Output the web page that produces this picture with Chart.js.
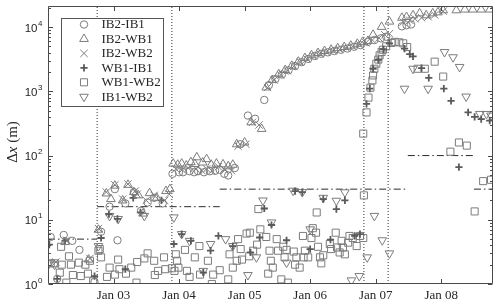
<!DOCTYPE html>
<html><head><meta charset="utf-8">
<script src="https://cdn.jsdelivr.net/npm/chart.js@4.4.0/dist/chart.umd.min.js"></script>
<style>html,body{margin:0;padding:0;background:#fff;}canvas{display:block;}</style>
</head><body>
<canvas id="c" width="500" height="304"></canvas>
<script>
// ---------- data (x: day of January 2010-style decimal days, y: Δx in metres) ----------
const seriesNames = ['IB2-IB1','IB2-WB1','IB2-WB2','WB1-IB1','WB1-WB2','IB1-WB2'];

const ib2ib1Days = [2.04,2.14,2.24,2.37,2.48,2.71, 2.81,2.94,3.02,3.06,3.18,3.31,3.42,3.52,3.62,3.75,3.90, 4.00,4.06,4.16,4.23,4.29,4.38,4.47,4.55,4.62,4.69,4.75,4.85, 4.93,5.05,5.16,5.30, 5.37,5.47,5.57,5.67,5.77,5.87,5.97,6.07,6.17,6.27,6.37,6.47,6.57,6.67,6.77, 6.88,6.98,7.08,7.16, 7.40,7.47,7.54];
const ib2ib1Dx   = [5.4,1.2,5.8,4.7,3.4,1.08, 6.5,16,30,4.8,18,27,13.8,18.6,22,18,52, 55,55,57,55,57,55,57,58,60,52,49,64, 150,420,375,735, 1250,1560,1830,2130,2480,2850,3200,3550,3850,4050,4250,4450,4650,4950,5250, 5900,6300,6700,7100, 10300,10700,11000];

const ib2wb1Days = [2.26,2.62,2.77, 2.89,2.96,3.02,3.14,3.22,3.31,3.38,3.45,3.55,3.66,3.80,3.86, 3.91,3.98,4.04,4.11,4.18,4.24,4.27,4.36,4.42,4.49,4.57,4.67,4.75,4.82, 4.88,5.00,5.10,5.26, 5.33,5.42,5.52,5.62,5.72,5.82,5.92,6.02,6.12,6.22,6.32,6.42,6.52,6.62,6.72,6.80, 6.88,6.96,7.09,7.21, 7.40,7.47,7.57,7.67,7.77,7.87,7.95,8.03,8.23,8.36,8.48,8.61,8.74];
const ib2wb1Dx   = [4.5,2.4,7.0, 25.7,21,34,20,35,27,24,12.5,26,22,28,30, 75,72,75,70,79,74,94,78,88,72,75,73,68,72, 150,160,330,260, 1150,1500,1850,2150,2500,2900,3300,3650,3950,4250,4450,4700,4900,5150,5500,5900, 6100,7600,10100,12200, 14000,14400,15300,16400,15300,16400,17000,18300,18300,18800,18800,18800,18800];

const ib2wb2Days = [2.12,2.28,2.64,2.77, 2.89,3.02,3.14,3.22,3.33,3.36,3.50,3.62,3.78,3.85, 3.95,4.05,4.14,4.26,4.35,4.42,4.50,4.60,4.70,4.80, 4.90,5.02,5.12,5.22, 5.35,5.45,5.55,5.65,5.75,5.85,5.95,6.05,6.15,6.25,6.35,6.45,6.55,6.65,6.75, 6.85,6.95,7.05,7.14,7.21, 7.42,7.52,7.60,7.70,7.80,7.90,8.03];
const ib2wb2Dx   = [2.2,4.8,2.5,7.3, 27,35,21,36,28,25,20,24,20,25, 62,60,64,62,58,62,58,67,60,58, 140,150,330,300, 1150,1500,1800,2100,2450,2850,3200,3550,3850,4100,4300,4500,4750,5000,5350, 5700,6300,6800,7600,7900, 12000,12800,13500,14000,14500,15500,17800];

const wb1ib1Days = [2.02,2.14,2.26,2.71, 2.81,2.93,3.06,3.18,3.30,3.41,3.73,3.92, 4.04,4.18,4.37,4.48,4.60,4.82,5.09,5.23,5.30,5.41,5.64,5.77,5.88,6.00,6.20,6.31,6.40,6.53,6.68,6.76, 6.86,6.91,6.96,7.04,7.12,7.21, 7.44,7.52,7.57,7.70,7.81,8.04,8.15,8.27,8.41,8.51,8.61,8.74];
const wb1ib1Dx   = [4.1,1.2,4.7,1.33, 5.2,12.2,10.3,1.7,22,13,20,4.2, 6.0,4.7,1.5,3.3,5.6,3.9,3.1,5.3,15,8.3,4.8,28,27,3.5,21,4.9,14.7,20,5.6,6.0, 640,1100,2250,3100,4500,5600, 4640,3800,3500,2300,1620,1100,710,66,470,400,370,350];

const wb1wb2Days = [2.04,2.10,2.18,2.20,2.21,2.28,2.32,2.35,2.38,2.47,2.50,2.57,2.61,2.64,2.69,2.77,
  2.79,2.81,2.90,2.94,3.02,3.07,3.09,3.19,3.27,3.35,3.36,3.47,3.52,3.62,3.63,3.68,3.77,3.79,3.89,3.93,
  3.95,3.97,3.99,4.09,4.12,4.16,4.24,4.31,4.32,4.44,4.50,4.52,4.62,4.75,4.77,4.82,4.88,4.90,4.94,4.96,
  5.03,5.07,5.08,5.13,5.19,5.21,5.24,5.33,5.36,5.38,5.40,5.43,5.49,5.51,5.56,5.59,5.61,5.64,5.66,5.75,5.77,5.79,5.84,5.89,5.90,5.92,5.97,6.02,6.04,6.09,6.10,6.12,6.15,6.17,6.20,6.30,6.32,6.39,6.41,6.45,6.48,6.50,6.53,6.58,6.60,6.65,6.71,6.76,6.81,6.82,
  6.81,6.86,6.89,6.92,6.95,6.96,6.98,7.01,7.04,7.06,7.09,7.11,7.16,7.24,
  7.29,7.36,7.42,7.48,7.64,7.75,7.90,8.03,8.14,8.27,8.39,8.51,8.64,8.76];
const wb1wb2Dx   = [2.1,2.1,1.5,3.8,2.0,1.05,2.7,2.0,1.38,2.15,1.33,2.0,1.45,2.3,1.1,3.3,
  3.5,2.6,1.29,1.8,1.4,2.4,1.7,1.45,1.8,1.05,2.2,2.5,3.0,2.3,1.38,1.6,2.6,1.7,1.76,1.6,
  2.9,2.3,1.8,3.4,1.6,1.29,2.6,3.9,1.4,2.3,1.0,1.4,1.64,1.18,2.9,1.8,2.3,5.0,3.5,2.4,
  6.1,2.7,6.3,3.3,4.1,14.7,7.1,5.4,1.45,3.3,2.3,1.8,5.0,3.3,1.18,3.8,2.6,3.4,1.05,3.2,2.0,2.6,1.8,5.6,2.6,3.3,2.6,5.2,7.4,6.3,13,3.8,2.6,2.1,2.8,4.2,3.5,6.3,3.7,3.1,4.7,3.7,2.9,4.4,5.6,5.2,3.9,5.6,5.2,24,
  220,470,800,1140,1480,1770,2250,2700,3130,3640,4100,4450,5030,5680,
  5900,5800,5600,4900,2250,2250,2900,1700,115,160,143,13.5,40,42];

const ib1wb2Days = [2.02,2.10,2.77, 2.94,3.07,3.47,3.92, 4.04,4.16,4.37,4.48,4.71,4.82,5.05,5.18,5.28,5.41,5.64,5.74,5.88,6.00,6.20,6.40,6.53,6.63,6.75,6.87,6.98,7.10,7.21, 7.44,7.57,7.80,8.05,8.18,8.28,8.38,8.59,8.69,8.76];
const ib1wb2Dx   = [2.1,2.0,3.9, 11.5,10.3,11.5,10.9, 6.0,4.7,1.6,4.2,5.0,3.9,1.38,2.6,20,9.1,2.15,28.4,27,7.1,22,19.8,26.8,1.14,1.33,2.6,11.5,4.8,3.0, 1100,2250,1100,4100,3400,2400,830,445,445,420];

// threshold (dash-dot) segments
const refStartDays = [2.00, 2.75, 4.62, 7.49, 8.50];
const refEndDays   = [2.75, 4.62, 7.49, 8.50, 8.79];
const refLevels    = [5, 16, 30, 100, 30];
// event times (dotted vertical lines)
const eventDays = [2.75, 3.89, 6.82, 7.19];

// axes
const xTickDays   = [3,4,5,6,7,8];
const xTickLabels = ['Jan 03','Jan 04','Jan 05','Jan 06','Jan 07','Jan 08'];
const yDecadeExps = [0,1,2,3,4];

// ---------- styling ----------
const GRAY = '#7c7c7c', DARK = '#5a5a5a', AXIS = '#4a4a4a', TXT = '#262626';
const markers = [
  {style:'circle',   rotation:0,   radius:3.7, width:1,   color:GRAY},
  {style:'triangle', rotation:0,   radius:5.0, width:1,   color:GRAY},
  {style:'crossRot', rotation:0,   radius:5.2, width:1,   color:GRAY},
  {style:'cross',    rotation:0,   radius:3.6, width:1.8, color:DARK},
  {style:'rect',     rotation:0,   radius:5.0, width:1,   color:GRAY},
  {style:'triangle', rotation:180, radius:5.0, width:1,   color:GRAY},
];
const seriesX = [ib2ib1Days, ib2wb1Days, ib2wb2Days, wb1ib1Days, wb1wb2Days, ib1wb2Days];
const seriesY = [ib2ib1Dx, ib2wb1Dx, ib2wb2Dx, wb1ib1Dx, wb1wb2Dx, ib1wb2Dx];

const datasets = [];
seriesNames.forEach((name, i) => {
  const m = markers[i];
  datasets.push({
    label: name,
    data: seriesX[i].map((d, k) => ({x: d, y: seriesY[i][k]})),
    pointStyle: m.style, pointRotation: m.rotation, pointRadius: m.radius,
    pointBorderWidth: m.width, pointBorderColor: m.color, borderColor: m.color,
    pointBackgroundColor: 'rgba(0,0,0,0)', backgroundColor: 'rgba(0,0,0,0)',
    showLine: false
  });
});
const Y_MIN = 1, Y_MAX = 21200, X_MIN = 2, X_MAX = 8.79;
refLevels.forEach((v, i) => {
  datasets.push({
    label: 'ref' + i,
    data: [{x: refStartDays[i], y: v}, {x: refEndDays[i], y: v}],
    showLine: true, borderColor: '#2a2a2a', borderWidth: 1,
    borderDash: [7, 3, 1.5, 3], pointRadius: 0, fill: false
  });
});
eventDays.forEach((d, i) => {
  datasets.push({
    label: 'event' + i,
    data: [{x: d, y: Y_MIN}, {x: d, y: Y_MAX}],
    showLine: true, borderColor: '#333', borderWidth: 1,
    borderDash: [1, 2], pointRadius: 0, fill: false
  });
});

function drawMarker(ctx, m, x, y) {
  ctx.save();
  ctx.strokeStyle = m.color; ctx.fillStyle = 'rgba(0,0,0,0)'; ctx.lineWidth = m.width;
  if (Chart.helpers && Chart.helpers.drawPoint) {
    Chart.helpers.drawPoint(ctx, {pointStyle: m.style, rotation: m.rotation, radius: m.radius, borderWidth: m.width}, x, y);
  } else {
    ctx.beginPath(); ctx.arc(x, y, m.radius, 0, Math.PI * 2); ctx.stroke();
  }
  ctx.restore();
}

const decor = {
  id: 'decor',
  afterDraw(chart) {
    const {ctx, chartArea: a, scales} = chart;
    const xs = scales.x, ys = scales.y;
    ctx.save();
    const L = Math.round(a.left) + 0.5, R = Math.round(a.right) - 0.5;
    const T = Math.round(a.top) + 0.5, B = Math.round(a.bottom) - 0.5;
    ctx.strokeStyle = AXIS; ctx.lineWidth = 1;
    ctx.beginPath(); ctx.rect(L, T, R - L, B - T); ctx.stroke();
    ctx.beginPath();
    xTickDays.forEach(d => {
      const px = Math.round(xs.getPixelForValue(d)) + 0.5;
      ctx.moveTo(px, B); ctx.lineTo(px, B - 4.5);
      ctx.moveTo(px, T); ctx.lineTo(px, T + 4.5);
    });
    yDecadeExps.forEach(k => {
      const py = Math.round(ys.getPixelForValue(Math.pow(10, k))) + 0.5;
      ctx.moveTo(L, py); ctx.lineTo(L + 4.5, py);
      ctx.moveTo(R, py); ctx.lineTo(R - 4.5, py);
      for (let mm = 2; mm <= 9; mm++) {
        const v = mm * Math.pow(10, k);
        if (v > Y_MAX) break;
        const q = Math.round(ys.getPixelForValue(v)) + 0.5;
        ctx.moveTo(L, q); ctx.lineTo(L + 2.5, q);
        ctx.moveTo(R, q); ctx.lineTo(R - 2.5, q);
      }
    });
    ctx.stroke();
    // y tick labels 10^k
    ctx.fillStyle = TXT;
    yDecadeExps.forEach(k => {
      const py = ys.getPixelForValue(Math.pow(10, k));
      ctx.font = '11.5px "Liberation Sans", Arial, sans-serif';
      ctx.textAlign = 'right'; ctx.textBaseline = 'middle';
      ctx.fillText('10', 37.5, py + 1.5);
      ctx.font = '8px "Liberation Sans", Arial, sans-serif';
      ctx.textAlign = 'left';
      ctx.fillText(String(k), 38, py - 3.5);
    });
    // y axis title: Δx (m)
    ctx.save();
    ctx.translate(13, 142);
    ctx.rotate(-Math.PI / 2);
    ctx.textBaseline = 'middle';
    const fN = '15px "Liberation Serif", "DejaVu Serif", serif';
    const fI = 'italic 15px "Liberation Serif", "DejaVu Serif", serif';
    const parts = [['Δ', fN], ['x', fI], [' (m)', fN]];
    let W = 0;
    parts.forEach(p => { ctx.font = p[1]; W += ctx.measureText(p[0]).width; });
    let cx = -W / 2;
    ctx.textAlign = 'left';
    parts.forEach(p => { ctx.font = p[1]; ctx.fillText(p[0], cx, 0); cx += ctx.measureText(p[0]).width; });
    ctx.restore();
    // legend box
    const bx = 61, by = 18.5, bw = 102, bh = 88;
    ctx.fillStyle = '#fff';
    ctx.fillRect(bx, by, bw, bh);
    ctx.strokeStyle = '#555'; ctx.lineWidth = 1;
    ctx.strokeRect(bx + 0.5, by, bw, bh);
    ctx.font = '13px "Liberation Serif", "DejaVu Serif", serif';
    ctx.textAlign = 'left'; ctx.textBaseline = 'middle';
    seriesNames.forEach((name, i) => {
      const yy = 24.5 + 14.45 * i;
      drawMarker(ctx, markers[i], 84, yy);
      ctx.fillStyle = TXT;
      ctx.fillText(name, 101.5, yy + 0.5);
    });
    ctx.restore();
  }
};

new Chart(document.getElementById('c'), {
  type: 'scatter',
  data: {datasets},
  options: {
    responsive: false, devicePixelRatio: 1, animation: false, events: [],
    layout: {padding: {top: 6, right: 7, left: 0, bottom: 0}},
    plugins: {legend: {display: false}, tooltip: {enabled: false}},
    scales: {
      x: {
        type: 'linear', min: X_MIN, max: X_MAX,
        afterBuildTicks: s => { s.ticks = xTickDays.map(v => ({value: v})); },
        afterFit: s => { s.height = 20; },
        ticks: {
          padding: 4, autoSkip: false, maxRotation: 0, color: TXT,
          font: {family: '"Liberation Serif", "DejaVu Serif", serif', size: 13},
          callback: (v, i) => xTickLabels[i]
        },
        grid: {display: false, drawTicks: false},
        border: {display: false}
      },
      y: {
        type: 'logarithmic', min: Y_MIN, max: Y_MAX,
        afterBuildTicks: s => { s.ticks = yDecadeExps.map(k => ({value: Math.pow(10, k)})); },
        afterFit: s => { s.width = 48; },
        ticks: {display: false},
        grid: {display: false, drawTicks: false},
        border: {display: false}
      }
    }
  },
  plugins: [decor]
});
</script>
</body></html>
